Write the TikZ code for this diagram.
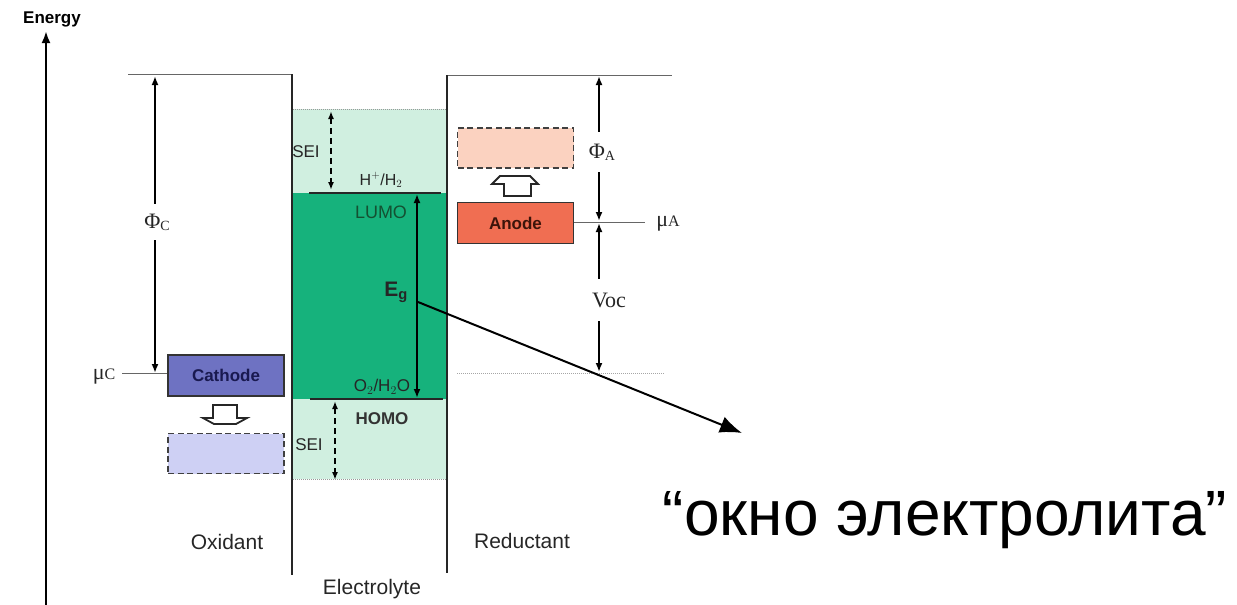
\documentclass[tikz,border=0pt]{standalone}
\usepackage{fontspec}
\setmainfont{Liberation Sans}
\newfontfamily\serfont{Liberation Serif}
\usetikzlibrary{arrows.meta}
\definecolor{dgreen}{RGB}{22,178,124}
\definecolor{lgreen}{RGB}{208,239,224}
\definecolor{gtext}{RGB}{20,80,50}
\definecolor{cathfill}{RGB}{110,114,194}
\definecolor{cathlight}{RGB}{206,208,244}
\definecolor{cathtext}{RGB}{25,25,80}
\definecolor{anfill}{RGB}{240,110,82}
\definecolor{anlight}{RGB}{251,210,192}
\definecolor{antext}{RGB}{60,20,10}
\tikzset{
  fs/.style={font=\fontsize{#1}{#1}\selectfont},
  lbl/.style={inner sep=0pt, text=black!85},
  wall/.style={line width=2.3pt, black!85},
  thin/.style={line width=1pt, black!60},
  dim/.style={line width=2.3pt, {Latex[length=9pt,width=7pt]}-{Latex[length=9pt,width=7pt]}},
  seiarrow/.style={line width=1.8pt, dashed, dash pattern=on 6pt off 4pt, {Latex[length=8pt,width=6pt]}-{Latex[length=8pt,width=6pt]}},
  level/.style={line width=2.3pt, black!85},
  boxsolid/.style={draw=black!80, line width=1.8pt, inner sep=0pt, minimum width=116pt, minimum height=41pt, font=\bfseries\fontsize{17}{17}\selectfont},
  boxdash/.style={draw=black!75, line width=1.8pt, dashed, dash pattern=on 6pt off 3.5pt, inner sep=0pt, minimum width=116pt, minimum height=40pt},
  hollow/.style={draw=black!85, line width=1.8pt, fill=white, line join=miter},
  serlbl/.style={inner sep=1pt, font=\serfont\fontsize{22}{22}\selectfont, text=black!85}
}
\begin{document}
\begin{tikzpicture}[x=1pt,y=-1pt]
\useasboundingbox (0,0) rectangle (1237,605);

% electrolyte regions
\fill[lgreen] (293,109) rectangle (447,193);
\fill[lgreen] (293,399) rectangle (447,479);
\fill[dgreen] (293,193) rectangle (447,399);
\draw[black!40, line width=1pt, densely dotted] (293,109) -- (447,109);
\draw[black!40, line width=1pt, densely dotted] (293,479) -- (447,479);

% energy axis
\coordinate (axbot) at (46,605);
\coordinate (axtop) at (46,31);
\draw[line width=2.5pt, -{Latex[length=12pt,width=9pt]}] (axbot) -- (axtop);
\node[lbl, font=\bfseries\fontsize{17}{17}\selectfont, text=black] (energy) at (52,19) {Energy};

% walls and top lines
\coordinate (ltl) at (128,74);
\coordinate (lwtop) at (292,74);
\coordinate (lwbot) at (292,575);
\coordinate (rwtop) at (447,75);
\coordinate (rwbot) at (447,573);
\coordinate (rtr) at (672,75);
\draw[thin] (ltl) -- (lwtop);
\draw[thin] (rwtop) -- (rtr);
\draw[wall] (lwtop) -- (lwbot);
\draw[wall] (rwtop) -- (rwbot);

% levels in electrolyte
\coordinate (hl) at (309,193);
\coordinate (hr) at (441,193);
\coordinate (ol) at (310,399);
\coordinate (or) at (443,399);
\draw[level] (hl) -- (hr);
\draw[level] (ol) -- (or);
\node[lbl, fs=16] (h2) at (381,180) {H$^{+}$/H$_2$};
\node[lbl, fs=17] (o2) at (382,387) {O$_2$/H$_2$O};
\node[lbl, fs=18, text=gtext] (lumo) at (381,212) {LUMO};
\node[lbl, font=\bfseries\fontsize{17}{17}\selectfont, text=black!80] (homo) at (382,419) {HOMO};
\node[lbl, fs=17] (sei1) at (306,152) {SEI};
\node[lbl, fs=17] (sei2) at (309,445) {SEI};
\coordinate (s1t) at (331,111);
\coordinate (s1b) at (331,190);
\coordinate (s2t) at (335,401);
\coordinate (s2b) at (335,480);
\draw[seiarrow] (s1t) -- (s1b);
\draw[seiarrow] (s2t) -- (s2b);

% Eg arrow
\coordinate (egt) at (417,194);
\coordinate (egb) at (417,398);
\draw[dim] (egt) -- (egb);
\node[lbl, font=\bfseries\fontsize{21}{21}\selectfont, text=black!85] (eg) at (396,292) {E\textsubscript{g}};

% cathode side
\node[boxsolid, fill=cathfill, text=cathtext] (cath) at (226,375.5) {Cathode};
\node[boxdash, fill=cathlight] (cathd) at (226,453.5) {};
\draw[hollow] (213,405) -- (237,405) -- (237,418) -- (247,418) -- (236,424) -- (214,424) -- (203,418) -- (213,418) -- cycle;
\coordinate (phict) at (155,76);
\coordinate (phicb) at (155,373);
\draw[dim] (phict) -- (phicb);
\node[serlbl, fill=white, inner ysep=10pt] (phic) at (157,222) {Φ\fontsize{14}{14}\selectfont\raisebox{-2pt}{C}};
\coordinate (muc) at (122,373);
\draw[thin] (muc) -- (cath.west |- muc);
\node[serlbl] (mucl) at (104,377) {μ\fontsize{16}{16}\selectfont C};

% anode side
\node[boxsolid, fill=anfill, text=antext] (anode) at (515.5,223) {Anode};
\node[boxdash, fill=anlight] (anoded) at (515.5,148) {};
\draw[hollow] (504,196) -- (504,184) -- (492,184) -- (500,176) -- (530,176) -- (538,184) -- (531,184) -- (531,196) -- cycle;
\coordinate (phiat) at (599,76);
\coordinate (phiab) at (599,221);
\draw[dim] (phiat) -- (phiab);
\node[serlbl, fill=white, inner ysep=12pt] (phia) at (602,152) {Φ\fontsize{14}{14}\selectfont\raisebox{-2pt}{A}};
\coordinate (mua) at (645,222);
\draw[thin] (anode.east |- mua) -- (mua);
\node[serlbl] (mual) at (668,224) {μ\fontsize{16}{16}\selectfont A};
\coordinate (voct) at (599,223);
\coordinate (vocb) at (599,372);
\draw[dim] (voct) -- (vocb);
\node[serlbl, fill=white, inner ysep=14pt] (voc) at (609,300) {Voc};
\coordinate (dl) at (457,373);
\coordinate (dr) at (664,373);
\draw[black!35, line width=1pt, densely dotted] (dl) -- (dr);

% bottom labels
\node[lbl, fs=21] (oxid) at (227,542) {Oxidant};
\node[lbl, fs=21] (red) at (522,541) {Reductant};
\node[lbl, fs=21] (elec) at (372,589) {Electrolyte};

% electrolyte window pointer
\coordinate (egpt) at (418,302);
\coordinate (tip) at (742,433);
\draw[line width=2pt, -{Latex[length=22pt,width=17pt]}] (egpt) -- (tip);
\node[anchor=base, inner sep=0pt, fs=64, text=black] (win) at (945,535) {“окно электролита”};
\end{tikzpicture}
\end{document}
